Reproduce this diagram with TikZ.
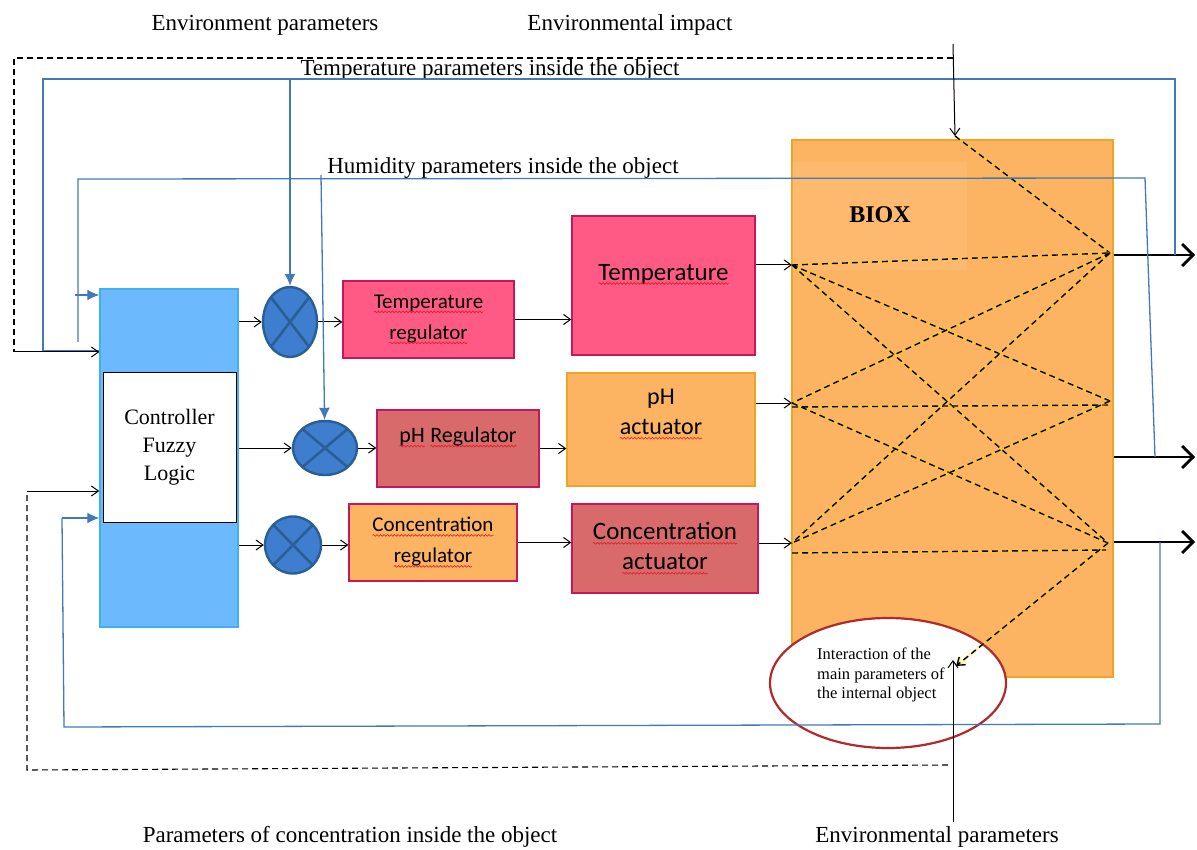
\documentclass[tikz,border=0pt]{standalone}
\usepackage{fontspec}
\setmainfont{Liberation Serif}
\newfontfamily\calibri{Carlito}
\usetikzlibrary{arrows.meta,positioning,shapes.geometric,calc,decorations.pathmorphing}

\definecolor{ctrlfill}{HTML}{6DB9FE}
\definecolor{ctrldraw}{HTML}{3FB0F2}
\definecolor{multfill}{HTML}{3F7DCF}
\definecolor{multdraw}{HTML}{285F94}
\definecolor{pinkfill}{HTML}{FF5A85}
\definecolor{redfill}{HTML}{D96A6B}
\definecolor{boxdraw}{HTML}{C4185C}
\definecolor{orangefill}{HTML}{FDB462}
\definecolor{orangedraw}{HTML}{EFA424}
\definecolor{lineblue}{HTML}{4279B8}
\definecolor{ovaldraw}{HTML}{B02A2A}
\definecolor{spellred}{HTML}{E02020}

% red wavy underline of the word processor
\newcommand\spellchk[1]{\tikz[baseline=(sw.base), x=1pt, y=1pt]{\node[shape=rectangle, draw=none, fill=none,
    inner sep=0pt, outer sep=0pt, minimum width=0pt, minimum height=0pt, anchor=base] (sw) at (0,0) {#1};
  \draw[spellred, line width=0.6pt, decorate, decoration={snake, amplitude=0.9pt, segment length=3.5pt}]
    ([yshift=-3.5pt]sw.base west) -- ([yshift=-3.5pt]sw.base east);}}

\tikzset{
  lbl/.style={inner sep=0pt, font=\fontsize{23}{27}\selectfont},
  box/.style={draw=boxdraw, line width=1.3pt, inner sep=0pt, align=center,
    font=\calibri\fontsize{21}{31}\selectfont},
  bigbox/.style={box, font=\calibri\fontsize{25}{30}\selectfont},
  mult/.style={ellipse, draw=multdraw, fill=multfill, line width=2.4pt, inner sep=0pt,
    path picture={\draw[multdraw, line width=2.6pt]
      (path picture bounding box.north west) -- (path picture bounding box.south east)
      (path picture bounding box.south west) -- (path picture bounding box.north east);}},
  bluearr/.style={draw=lineblue, line width=1.3pt, -{Latex[length=12pt,width=11pt]}},
  blueline/.style={draw=lineblue, line width=1.3pt},
  outarr/.style={line width=2.8pt, -{Straight Barb[length=11pt,width=22pt,line width=2.8pt]}},
  glowdash/.style={dash pattern=on 6pt off 4pt, line width=1.4pt,
    preaction={draw=yellow!80!orange, line width=2.8pt, opacity=0.3, solid}},
}

\begin{document}
\begin{tikzpicture}[x=1pt,y=-1pt, >={Straight Barb[length=7pt,width=10pt]}]
\useasboundingbox (0,0) rectangle (1197,850);

% texts round the scheme
\node[lbl] (envp) at (265,25) {Environment parameters};
\node[lbl] (envi) at (630,25) {Environmental impact};
\node[lbl] (tpar) at (490,70) {Temperature parameters inside the object};
\node[lbl] (hpar) at (503,168) {Humidity parameters inside the object};
\node[lbl] (cpar) at (350,837) {Parameters of concentration inside the object};
\node[lbl] (enpb) at (937,837) {Environmental parameters};

% object
\node[draw=orangedraw, fill=orangefill, line width=1.5pt, minimum width=321pt, minimum height=537pt] (biox) at (952.5,408.5) {};
\fill[white, opacity=0.08] (792,162) rectangle (967,270);
\node[font=\bfseries\fontsize{24}{28}\selectfont, inner sep=0pt] (bioxlbl) at (880,215) {BIOX};

% controller
\node[draw=ctrldraw, fill=ctrlfill, line width=1.5pt, minimum width=138pt, minimum height=338pt] (ctrl) at (169,458) {};
\node[draw=black, fill=white, line width=0.8pt, minimum width=133pt, minimum height=150pt, align=center,
  font=\fontsize{22}{28}\selectfont] (fuzzy) at (169.5,447) {Controller\\Fuzzy\\Logic};

% multipliers
\node[mult, minimum width=54pt, minimum height=70pt] (m1) at (290,322) {};
\node[mult, minimum width=64pt, minimum height=54pt] (m2) at (325,448) {};
\node[mult, minimum width=56pt, minimum height=57pt] (m3) at (293,545) {};

% regulators
\node[box, fill=pinkfill, minimum width=171pt, minimum height=77pt] (treg) at (428.5,319.5) {\spellchk{Temperature}\\\spellchk{regulator}};
\node[box, fill=redfill, minimum width=162pt, minimum height=77pt, font=\calibri\fontsize{22}{29}\selectfont] (phreg) at (458,448.5) {\raisebox{27pt}{\spellchk{pH} \spellchk{Regulator}}};
\node[box, fill=orangefill, minimum width=168pt, minimum height=77pt] (creg) at (433,542.5) {\spellchk{Concentration}\\\spellchk{regulator}};

% actuators
\node[bigbox, fill=pinkfill, minimum width=183pt, minimum height=139pt] (tact) at (663.5,285.5) {\raisebox{27pt}{\spellchk{Temperature}}};
\node[bigbox, draw=orangedraw, fill=orangefill, minimum width=188pt, minimum height=113pt, font=\calibri\fontsize{24}{29}\selectfont] (pact) at (661,429.5) {\raisebox{35pt}{\shortstack{pH\\[8pt]\spellchk{actuator}}}};
\node[bigbox, fill=redfill, minimum width=186pt, minimum height=89pt] (cact) at (665,548.5) {\spellchk{Concentration}\\\spellchk{actuator}};

% oval
\node[ellipse, draw=ovaldraw, fill=white, line width=2.2pt, minimum width=236pt, minimum height=130pt] (oval) at (888,683) {};
\node[align=left, inner sep=0pt, anchor=north west, font=\fontsize{16.5}{19.5}\selectfont] (ovaltxt) at (817,648) {Interaction of the\\main parameters of\\the internal object};

% points on the object
\coordinate (L1) at (792,265);
\coordinate (L2) at (792,403);
\coordinate (L2b) at (792,407);
\coordinate (L3) at (792,543);
\coordinate (L3b) at (792,553);
\coordinate (R1) at (1110,253);
\coordinate (R2) at (1110,401);
\coordinate (R2b) at (1110,405);
\coordinate (R3) at (1108,543);
\coordinate (R3b) at (1106,550);
\coordinate (T0) at (955,136);
\coordinate (E0) at (956,666);
\coordinate (imp) at (953,44);
\coordinate (envb) at (953,822);
\coordinate (o1) at (1195,255);
\coordinate (o2) at (1195,457);
\coordinate (o3) at (1195,542);

% signal chain
\draw[->, line width=1pt] (ctrl.east |- m1) -- (m1);
\draw[->, line width=1pt] (ctrl.east |- m2) -- (m2);
\draw[->, line width=1pt] (ctrl.east |- m3) -- (m3);
\draw[->, line width=1pt] (m1.east) -- (m1.east -| treg.west);
\draw[->, line width=1pt] (m2.east) -- (m2.east -| phreg.west);
\draw[->, line width=1pt] (m3.east) -- (m3.east -| creg.west);
\draw[->, line width=1pt] (treg.east) -- (treg.east -| tact.west);
\draw[->, line width=1pt] (phreg.east) -- (phreg.east -| pact.west);
\draw[->, line width=1pt] (creg.east) -- (creg.east -| cact.west);
\draw[->, line width=1pt] (tact.east |- L1) -- (L1);
\draw[->, line width=1pt] (pact.east |- L2) -- (L2);
\draw[->, line width=1pt] (cact.east |- L3) -- (L3);

% interactions inside the object
\draw[glowdash] (T0) -- (R1);
\draw[glowdash] (L1) -- (R1) (L1) -- (R2) (L1) -- (R3);
\draw[glowdash] (R1) -- (L2) (R1) -- (L3);
\draw[glowdash] (L2b) -- (R2b) (L2) -- (R3);
\draw[glowdash] (R2) -- (L3) (L3b) -- (R3b);
\draw[glowdash, ->] (R3) -- (E0);

% outputs
\draw[outarr] (biox.east |- o1) -- (o1);
\draw[outarr] (biox.east |- o2) -- (o2);
\draw[outarr] (biox.east |- o3) -- (o3);

% feedback lines
\draw[blueline] (1175,255) -- (1175,79) -- (43,79) -- (43,351) -- (ctrl.west |- 43,351);
\draw[bluearr] (290,79) -- (m1);
\draw[blueline] (1155,457) -- (1145,178) -- (78,179) -- (78,342);
\draw[bluearr] (75,295) -- (ctrl.west |- 75,295);
\draw[bluearr] (321,175) -- (m2);
\draw[blueline] (1160,542) -- (1160,724) -- (64,727) -- (62,518);
\draw[bluearr] (62,518) -- (ctrl.west |- 62,518);

% environment
\draw[->, line width=1pt] (imp) -- (T0);
\draw[dash pattern=on 6pt off 4pt, line width=1.1pt] (953,58) -- (14,58) -- (14,352);
\draw[->, line width=1pt] (14,352) -- (ctrl.west |- 14,352);
\draw[dash pattern=on 6pt off 4pt, line width=1.1pt] (948,765) -- (27,770) -- (27,491);
\draw[->, line width=1pt] (27,491) -- (ctrl.west |- 27,491);
\draw[->, line width=1pt] (envb) -- (953,660);
\end{tikzpicture}
\end{document}
